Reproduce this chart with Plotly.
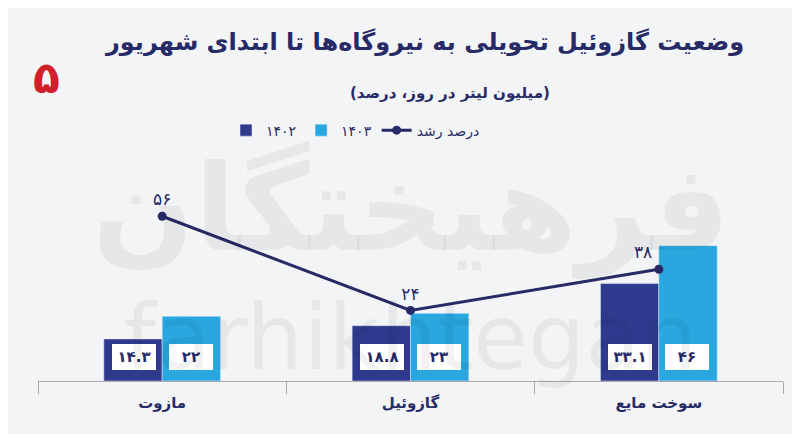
import plotly.graph_objects as go

categories = ["مازوت", "گازوئیل", "سوخت مایع"]
y1402 = [14.3, 18.8, 33.1]
y1403 = [22, 23, 46]
growth = [56, 24, 38]

def fa(v):
    s = str(v)
    return s.translate(str.maketrans("0123456789", "۰۱۲۳۴۵۶۷۸۹"))

DARK = "#2f3a8f"
LIGHT = "#2aa7df"
NAVY = "#262a66"
FONT = "DejaVu Sans"

fig = go.Figure()
fig.add_bar(x=categories, y=y1402, name="۱۴۰۲", marker_color=DARK)
fig.add_bar(x=categories, y=y1403, name="۱۴۰۳", marker_color=LIGHT)
fig.add_scatter(x=categories, y=growth, name="درصد رشد", mode="lines+markers+text",
                line=dict(color=NAVY, width=3), marker=dict(size=9, color=NAVY),
                text=[fa(g) for g in growth], textposition=["top center", "top center", "top left"],
                textfont=dict(size=17, color=NAVY, family=FONT))

# value boxes
for i, c in enumerate(categories):
    for val, off, col in ((y1402[i], -0.115, DARK), (y1403[i], 0.115, LIGHT)):
        fig.add_annotation(x=i + off, y=8, xref="x", yref="y", text="<b>" + fa(val) + "</b>",
                           showarrow=False, bgcolor="white", bordercolor=col, borderwidth=3,
                           width=42, height=24, font=dict(size=15, color=NAVY, family=FONT))

# watermark
fig.add_annotation(x=0.5, y=0.68, xref="paper", yref="paper", yanchor="middle", text="<b>فرهیختگان</b>",
                   showarrow=False, font=dict(size=120, color="rgba(0,0,0,0.05)", family=FONT))
fig.add_annotation(x=0.5, y=0.17, xref="paper", yref="paper", yanchor="middle", text="farhikhtegan",
                   showarrow=False, font=dict(size=90, color="rgba(0,0,0,0.05)", family=FONT))

fig.add_annotation(x=0.95, y=1.34, xref="paper", yref="paper", xanchor="right", yanchor="middle",
                   text="<b>وضعیت گازوئیل تحویلی به نیروگاه‌ها تا ابتدای شهریور</b>", showarrow=False,
                   font=dict(size=24, color=NAVY, family=FONT))
fig.add_annotation(x=0.69, y=1.14, xref="paper", yref="paper", xanchor="right", yanchor="middle",
                   text="<b>(میلیون لیتر در روز، درصد)</b>", showarrow=False,
                   font=dict(size=15, color=NAVY, family=FONT))
fig.add_annotation(x=-0.01, y=1.2, xref="paper", yref="paper", xanchor="left", yanchor="middle",
                   text="<b>۵</b>", showarrow=False, font=dict(size=44, color="#d0202a", family=FONT))

fig.update_layout(
    width=800, height=434, margin=dict(l=30, r=25, t=120, b=61),
    paper_bgcolor="#f3f4f6", plot_bgcolor="#f3f4f6",
    bargap=0.53, bargroupgap=0, barmode="group",
    font=dict(family=FONT, color=NAVY),
    legend=dict(orientation="h", x=0.6, xanchor="right", y=0.99, yanchor="middle",
                font=dict(size=14, color=NAVY), bgcolor="rgba(0,0,0,0)"),
    xaxis=dict(type="category", tickson="boundaries", ticks="outside", ticklen=12, tickcolor="#aaa",
               showline=True, linecolor="#aaa", linewidth=1, showgrid=False,
               tickfont=dict(size=15, color=NAVY, family=FONT), ticklabelstandoff=8),
    yaxis=dict(range=[0, 86], visible=False, showgrid=False),
)
fig.update_xaxes(tickprefix="<b>", ticksuffix="</b>")
fig.write_html("out.html")
